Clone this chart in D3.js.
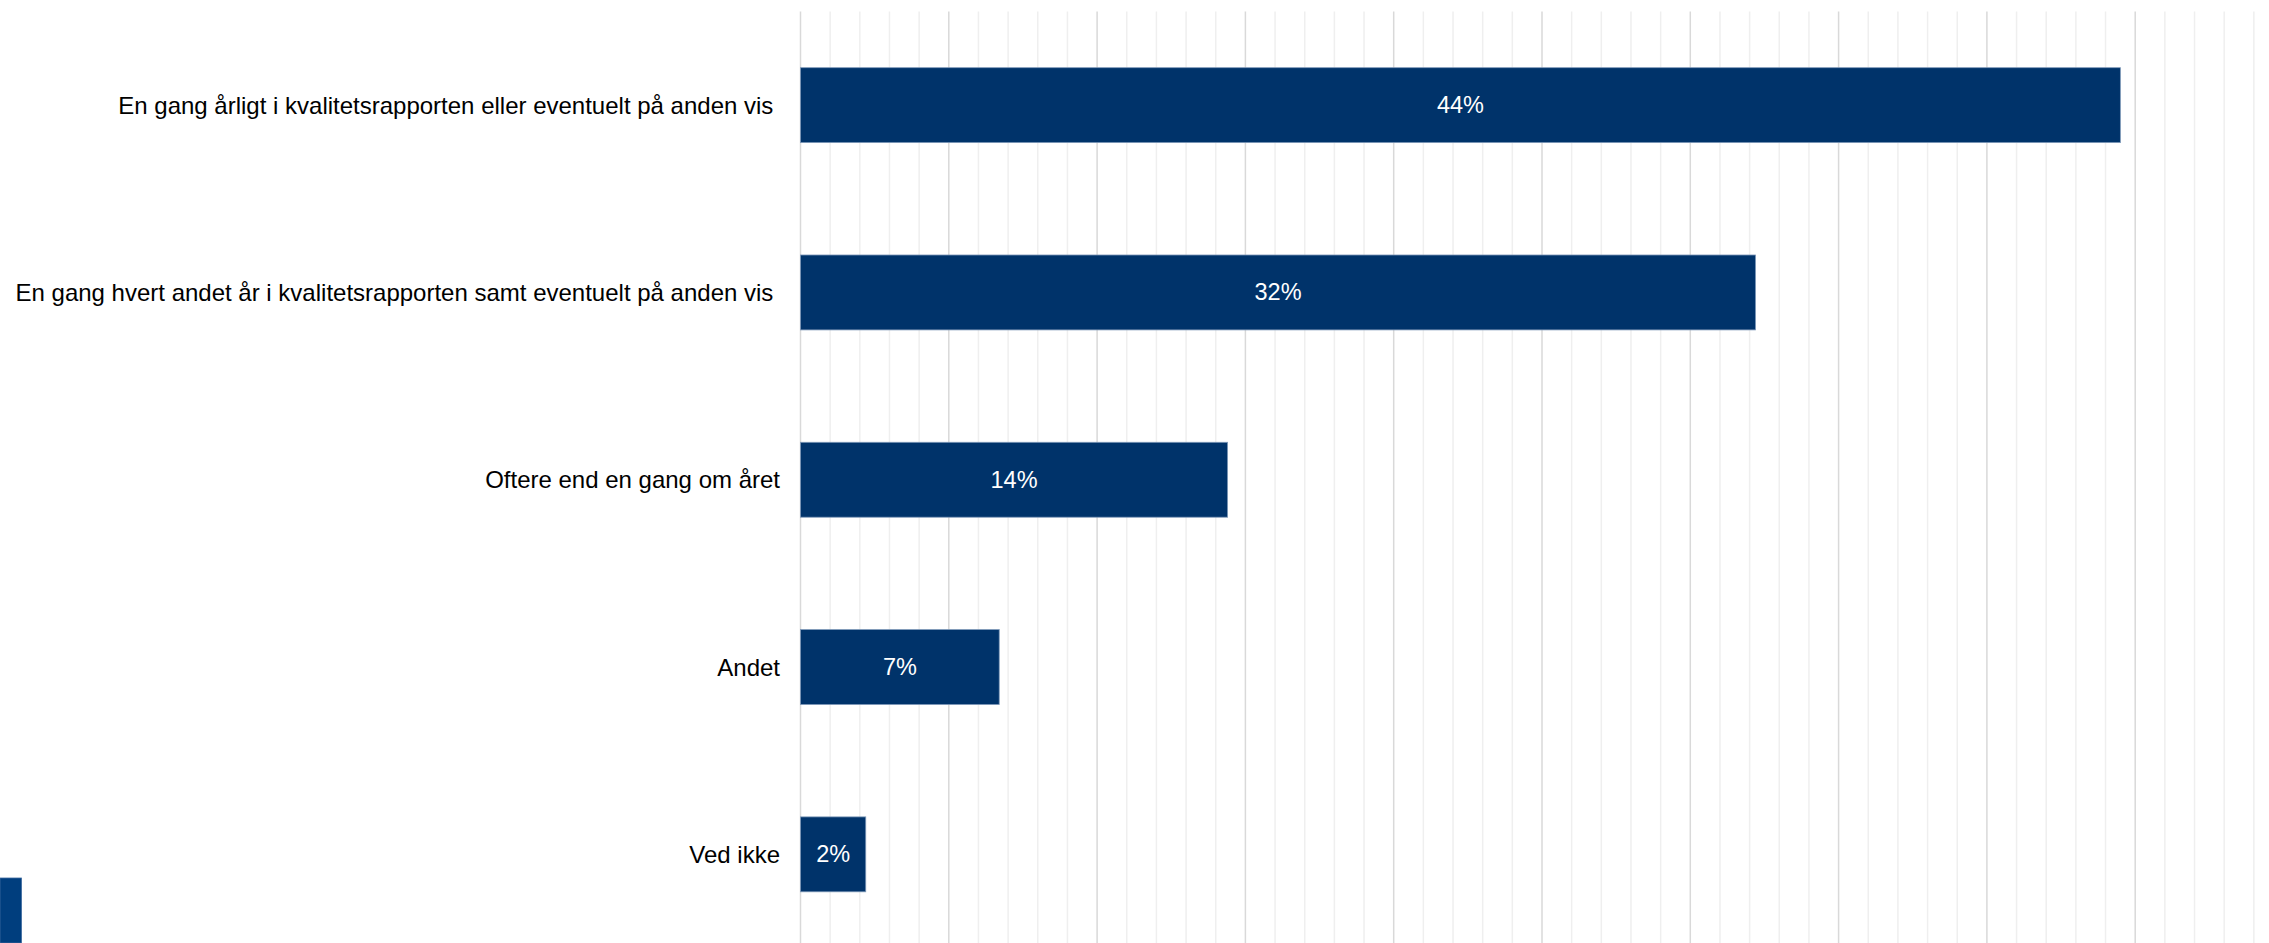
<!DOCTYPE html>
<html>
<head>
<meta charset="utf-8">
<script src="https://cdn.jsdelivr.net/npm/d3@7"></script>
<style>
  html, body { margin: 0; padding: 0; background: #ffffff; overflow: hidden; }
  svg { display: block; }
  text { font-family: "Liberation Sans", Arial, sans-serif; white-space: pre; }
</style>
</head>
<body>
<svg id="chart" width="2269" height="943"></svg>
<script>
const categories = [
  "En gang årligt i kvalitetsrapporten eller eventuelt på anden vis ",
  "En gang hvert andet år i kvalitetsrapporten samt eventuelt på anden vis ",
  "Oftere end en gang om året",
  "Andet",
  "Ved ikke"
];
const values = [44.5, 32.2, 14.4, 6.7, 2.2];
const valueLabels = ["44%", "32%", "14%", "7%", "2%"];
const xDomain = [0, 50];

const svg = d3.select("#chart");
const W = 2269, H = 943;
const left = 800.5;
const pxPerUnit = 29.66;

const x = d3.scaleLinear().domain(xDomain).range([left, left + (xDomain[1] - xDomain[0]) * pxPerUnit]);
const y = d3.scaleBand().domain(categories).range([11.5, 948]).paddingInner(0.6).paddingOuter(0.3);

const gridTop = 11.5, gridBottom = H;

// minor grid
const minorTicks = d3.range(1, 51).filter(v => v % 5 !== 0);
svg.append("g").selectAll("line").data(minorTicks).join("line")
  .attr("x1", d => x(d)).attr("x2", d => x(d))
  .attr("y1", gridTop).attr("y2", gridBottom)
  .attr("stroke", "#efefef").attr("stroke-width", 1.5);

// major grid
const majorTicks = d3.range(5, 51, 5);
svg.append("g").selectAll("line").data(majorTicks).join("line")
  .attr("x1", d => x(d)).attr("x2", d => x(d))
  .attr("y1", gridTop).attr("y2", gridBottom)
  .attr("stroke", "#d9d9d9").attr("stroke-width", 1.5);

// axis line
svg.append("line")
  .attr("x1", x(0)).attr("x2", x(0))
  .attr("y1", gridTop).attr("y2", gridBottom)
  .attr("stroke", "#d9d9d9").attr("stroke-width", 1.5);

// bars
svg.append("g").selectAll("rect").data(values).join("rect")
  .attr("x", x(0))
  .attr("y", (d, i) => y(categories[i]))
  .attr("width", d => x(d) - x(0))
  .attr("height", y.bandwidth())
  .attr("fill", "#00336a")
  .attr("stroke", "#7e98b8")
  .attr("stroke-width", 0.8);

// value labels
svg.append("g").selectAll("text").data(values).join("text")
  .attr("x", d => (x(0) + x(d)) / 2)
  .attr("y", (d, i) => y(categories[i]) + y.bandwidth() / 2)
  .attr("text-anchor", "middle")
  .attr("dominant-baseline", "central")
  .attr("fill", "#ffffff")
  .attr("font-size", "23.5px")
  .text((d, i) => valueLabels[i]);

// category labels
svg.append("g").selectAll("text").data(categories).join("text")
  .attr("x", 780)
  .attr("y", d => y(d) + y.bandwidth() / 2)
  .attr("text-anchor", "end")
  .attr("dominant-baseline", "central")
  .attr("fill", "#000000")
  .attr("font-size", "24px")
  .text(d => d);

// decorative corner block
svg.append("rect")
  .attr("x", 0).attr("y", 878)
  .attr("width", 21.5).attr("height", H - 878)
  .attr("fill", "#003e7e")
  .attr("stroke", "#3d6aa0").attr("stroke-width", 0.8);
</script>
</body>
</html>
